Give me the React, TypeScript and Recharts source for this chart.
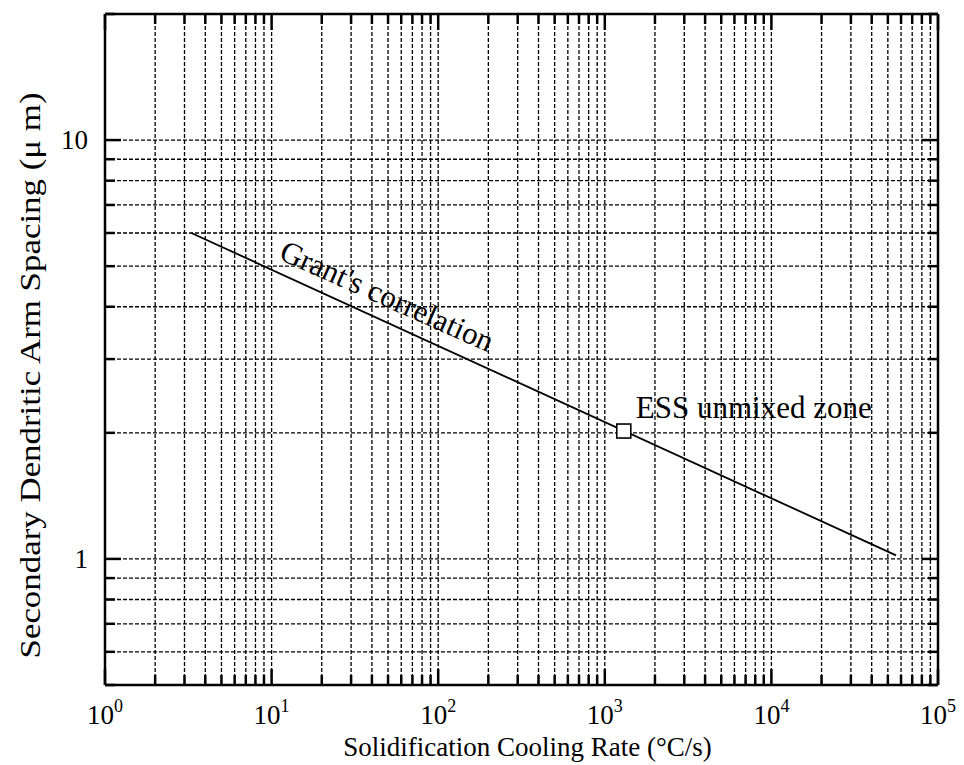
import { ComposedChart, Line, Scatter, XAxis, YAxis, CartesianGrid, ReferenceDot } from 'recharts'

// values
const grantRate = [3.3, 56000] // °C/s
const grantSpacing = [6.0, 1.02] // µm
const essRate = [1300]
const essSpacing = [2.02]

const xTicks = [
  1, 2, 3, 4, 5, 6, 7, 8, 9,
  10, 20, 30, 40, 50, 60, 70, 80, 90,
  100, 200, 300, 400, 500, 600, 700, 800, 900,
  1000, 2000, 3000, 4000, 5000, 6000, 7000, 8000, 9000,
  10000, 20000, 30000, 40000, 50000, 60000, 70000, 80000, 90000,
  100000,
]
const yTicks = [0.5, 0.6, 0.7, 0.8, 0.9, 1, 2, 3, 4, 5, 6, 7, 8, 9, 10, 20]
const yLabels: Record<number, string> = { 1: '1', 10: '10' }

const grantData = grantRate.map((x, i) => ({ x, y: grantSpacing[i] }))
const essData = essRate.map((x, i) => ({ x, y: essSpacing[i] }))

const FONT = '"Liberation Serif", "Times New Roman", serif'
const INK = '#000'

const isDecade = (v: number) => {
  const l = Math.log10(v)
  return Math.abs(l - Math.round(l)) < 1e-6
}

function BottomTick({ x, y, payload }: any) {
  const v = payload.value
  const major = isDecade(v)
  return (
    <g>
      <line x1={x} x2={x} y1={y} y2={y - (major ? 16 : 10)} stroke={INK} strokeWidth={2.5} />
      {major && (
        <text x={x} y={y + 39} textAnchor="middle" fontFamily={FONT} fontSize={27} fill={INK}>
          10<tspan dy={-12} fontSize={18}>{Math.round(Math.log10(v))}</tspan>
        </text>
      )}
    </g>
  )
}

function TopTick({ x, y, payload }: any) {
  const major = isDecade(payload.value)
  return <line x1={x} x2={x} y1={y} y2={y + (major ? 16 : 10)} stroke={INK} strokeWidth={2.5} />
}

function LeftTick({ x, y, payload }: any) {
  const v = payload.value
  const major = isDecade(v)
  const lab = yLabels[v]
  return (
    <g>
      <line x1={x} x2={x + (major ? 16 : 10)} y1={y} y2={y} stroke={INK} strokeWidth={2.5} />
      {lab && (
        <text x={x - 17} y={y + 9} textAnchor="end" fontFamily={FONT} fontSize={27} fill={INK}>
          {lab}
        </text>
      )}
    </g>
  )
}

function RightTick({ x, y, payload }: any) {
  const major = isDecade(payload.value)
  return <line x1={x} x2={x - (major ? 16 : 10)} y1={y} y2={y} stroke={INK} strokeWidth={2.5} />
}

const xTitle = (props: any) => {
  const vb = props.viewBox
  return (
    <text x={vb.x + vb.width / 2 + 6} y={vb.y + 71} textAnchor="middle" fontFamily={FONT} fontSize={27} fill={INK}>
      Solidification Cooling Rate (°C/s)
    </text>
  )
}

const yTitle = (props: any) => {
  const vb = props.viewBox
  const cx = 30
  const cy = vb.y + vb.height / 2 + 26
  return (
    <text
      x={cx}
      y={cy}
      transform={`rotate(-90 ${cx} ${cy})`}
      textAnchor="middle"
      dominantBaseline="central"
      fontFamily={FONT}
      fontSize={29}
      textLength={566}
      lengthAdjust="spacingAndGlyphs"
      fill={INK}
    >
      Secondary Dendritic Arm Spacing (μ m)
    </text>
  )
}

const essLabel = (props: any) => {
  const vb = props.viewBox
  return (
    <text x={vb.x + 12} y={vb.y - 13} fontFamily={FONT} fontSize={31} fill={INK}>
      ESS unmixed zone
    </text>
  )
}

const grantLabel = (props: any) => {
  const vb = props.viewBox
  const cx = vb.x + 2
  const cy = vb.y - 25
  return (
    <text
      x={cx}
      y={cy}
      transform={`rotate(24 ${cx} ${cy})`}
      textAnchor="middle"
      dominantBaseline="central"
      fontFamily={FONT}
      fontSize={31}
      fill={INK}
    >
      Grant's correlation
    </text>
  )
}

const square = ({ cx, cy }: any) => (
  <rect x={cx - 7} y={cy - 7} width={14} height={14} fill="#fff" stroke={INK} strokeWidth={1.6} />
)

export default function App() {
  return (
    <div style={{ position: 'absolute', left: 0, top: 0, width: 964, height: 765, background: '#fff' }}>
      <ComposedChart width={964} height={765} margin={{ top: 13, right: 25, bottom: 79, left: 104 }}>
        <CartesianGrid stroke={INK} strokeWidth={1.3} strokeDasharray="4 2" />
        <XAxis
          dataKey="x"
          type="number"
          scale="log"
          domain={[1, 100000]}
          allowDataOverflow
          ticks={xTicks}
          interval={0}
          height={1}
          tickSize={0}
          tickMargin={0}
          tickLine={false}
          tick={<BottomTick />}
          axisLine={{ stroke: INK, strokeWidth: 2.5 }}
          label={{ content: xTitle }}
        />
        <XAxis
          xAxisId="top"
          orientation="top"
          dataKey="x"
          type="number"
          scale="log"
          domain={[1, 100000]}
          allowDataOverflow
          ticks={xTicks}
          interval={0}
          height={1}
          tickSize={0}
          tickMargin={0}
          tickLine={false}
          tick={<TopTick />}
          axisLine={{ stroke: INK, strokeWidth: 2.5 }}
        />
        <YAxis
          dataKey="y"
          type="number"
          scale="log"
          domain={[0.5, 20]}
          allowDataOverflow
          ticks={yTicks}
          interval={0}
          width={1}
          tickSize={0}
          tickMargin={0}
          tickLine={false}
          tick={<LeftTick />}
          axisLine={{ stroke: INK, strokeWidth: 2.5 }}
          label={{ content: yTitle }}
        />
        <YAxis
          yAxisId="right"
          orientation="right"
          dataKey="y"
          type="number"
          scale="log"
          domain={[0.5, 20]}
          allowDataOverflow
          ticks={yTicks}
          interval={0}
          width={1}
          tickSize={0}
          tickMargin={0}
          tickLine={false}
          tick={<RightTick />}
          axisLine={{ stroke: INK, strokeWidth: 2.5 }}
        />
        <Line
          data={grantData}
          dataKey="y"
          type="linear"
          stroke={INK}
          strokeWidth={1.8}
          dot={false}
          isAnimationActive={false}
        />
        <Scatter data={essData} dataKey="y" shape={square} isAnimationActive={false} />
        <ReferenceDot x={essRate[0]} y={essSpacing[0]} r={0} fill="none" stroke="none" label={{ content: essLabel }} />
        <ReferenceDot x={48} y={3.7} r={0} fill="none" stroke="none" label={{ content: grantLabel }} />
      </ComposedChart>
    </div>
  )
}
